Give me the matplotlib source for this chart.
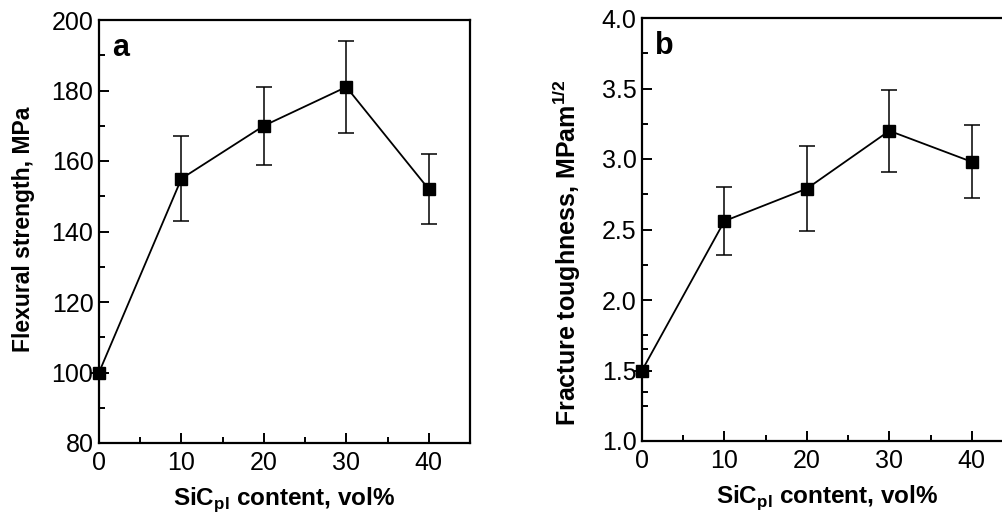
import matplotlib
matplotlib.use("Agg")
from matplotlib import pyplot as plt
from matplotlib.ticker import MultipleLocator, FixedLocator

plt.rcParams['font.family'] = ['Liberation Sans', 'DejaVu Sans']
plt.rcParams['mathtext.fontset'] = 'custom'
plt.rcParams['mathtext.rm'] = 'Liberation Sans:bold'
plt.rcParams['mathtext.bf'] = 'Liberation Sans:bold'

# SiC platelet content (vol%)
sic_content = [0, 10, 20, 30, 40]

# panel a: flexural strength (MPa)
strength = [100, 155, 170, 181, 152]
strength_lo = [100, 143, 159, 168, 142]
strength_hi = [100, 167, 181, 194, 162]

# panel b: fracture toughness (MPa m^1/2)
toughness = [1.5, 2.56, 2.79, 3.20, 2.98]
toughness_lo = [1.5, 2.32, 2.49, 2.91, 2.72]
toughness_hi = [1.5, 2.80, 3.09, 3.49, 3.24]

W, H = 1003, 516
fig = plt.figure(figsize=(W / 100, H / 100), dpi=100)

# axes in pixel coords: left, right, top, bottom
ax_a = fig.add_axes([99 / W, 1 - 443 / H, 371 / W, 423 / H])
ax_b = fig.add_axes([642 / W, 1 - 441 / H, 371 / W, 423 / H])


def draw(ax, y, lo, hi):
    yerr = [[v - l for v, l in zip(y, lo)], [h - v for v, h in zip(y, hi)]]
    ax.errorbar(sic_content, y, yerr=yerr, color='black', lw=1.3,
                marker='s', ms=8.5, capsize=5.5, elinewidth=1.1, capthick=1.1,
                clip_on=False, zorder=3)
    ax.set_xlim(0, 45)
    ax.xaxis.set_major_locator(FixedLocator([0, 10, 20, 30, 40]))
    ax.xaxis.set_minor_locator(FixedLocator([5, 15, 25, 35]))
    for s in ax.spines.values():
        s.set_linewidth(1.6)
    ax.tick_params(which='both', direction='in', top=False, right=False,
                   width=1.4, labelsize=18)
    ax.tick_params(axis='x', pad=6)
    ax.tick_params(axis='y', pad=4)
    ax.tick_params(which='major', length=7)
    ax.tick_params(which='minor', length=4)
    ax.set_xlabel(r'SiC$_{\mathbf{pl}}$ content, vol%', fontsize=17.5,
                  fontweight='bold', labelpad=7)


draw(ax_a, strength, strength_lo, strength_hi)
ax_a.set_ylim(80, 200)
ax_a.yaxis.set_major_locator(MultipleLocator(20))
ax_a.yaxis.set_minor_locator(MultipleLocator(10))
ax_a.set_ylabel('Flexural strength, MPa', fontsize=16.5, fontweight='bold')
ax_a.yaxis.set_label_coords(-0.172, 0.505)
ax_a.text(0.035, 0.97, 'a', transform=ax_a.transAxes, fontsize=22,
          fontweight='bold', ha='left', va='top')

draw(ax_b, toughness, toughness_lo, toughness_hi)
ax_b.set_ylim(1.0, 4.0)
ax_b.yaxis.set_major_locator(MultipleLocator(0.5))
ax_b.yaxis.set_minor_locator(FixedLocator([1.25, 1.35, 1.65, 1.75, 2.25,
                                           2.75, 3.25, 3.75]))
ax_b.yaxis.set_major_formatter(matplotlib.ticker.FormatStrFormatter('%.1f'))
ax_b.set_ylabel(r'Fracture toughness, MPam$^{\mathbf{1/2}}$', fontsize=18,
                fontweight='bold')
ax_b.yaxis.set_label_coords(-0.16, 0.445)
ax_b.text(0.035, 0.97, 'b', transform=ax_b.transAxes, fontsize=22,
          fontweight='bold', ha='left', va='top')

fig.savefig('out.png', dpi=100)
